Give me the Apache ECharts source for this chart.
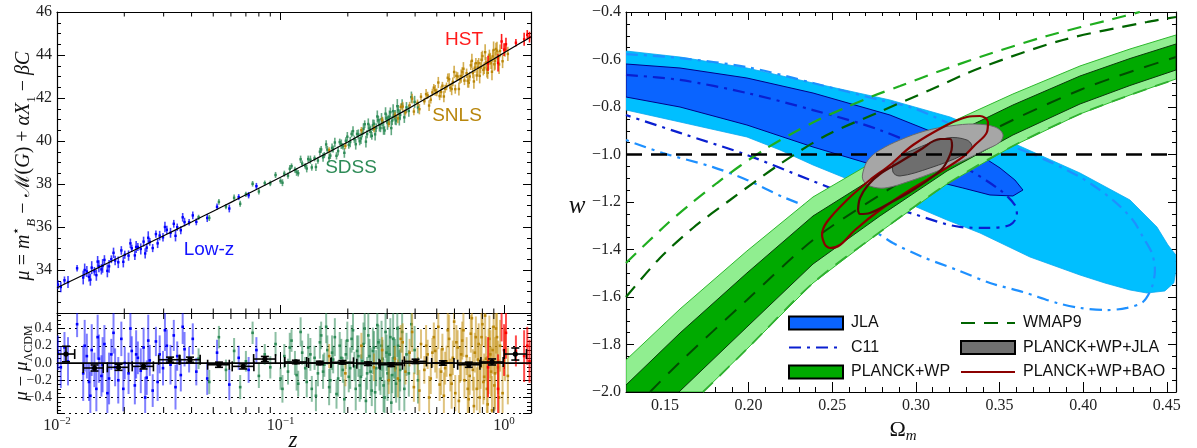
<!DOCTYPE html>
<html><head><meta charset="utf-8">
<script src="https://cdn.jsdelivr.net/npm/echarts@6/dist/echarts.min.js"></script>
<style>html,body{margin:0;padding:0;background:#fff}#c{width:1197px;height:448px}</style>
</head><body><div id="c"></div>
<script>
// ---------------- Hubble diagram data ----------------
const lowzZ = [0.0101,0.0104,0.0108,0.0112,0.0123,0.0131,0.0136,0.0139,0.0143,0.0147,0.0150,0.0154,0.0158,0.0163,0.0168,0.0175,0.0182,0.0188,0.0194,0.0201,0.0209,0.0216,0.0223,0.0230,0.0237,0.0244,0.0252,0.0260,0.0268,0.0277,0.0288,0.0298,0.0310,0.0322,0.0333,0.0345,0.0358,0.0372,0.0390,0.0405,0.0420,0.0470,0.0520,0.0590,0.0650,0.0720,0.0780,
  0.0133,0.0141,0.0152,0.0160,0.0171,0.0179,0.0198,0.0213,0.0226,0.0248,0.0256,0.0282,0.0304,0.0339,0.0365];
const lowzMu = [33.32,33.21,33.52,33.44,34.08,33.65,33.93,33.68,34.11,33.94,33.76,34.17,34.03,34.47,33.96,34.50,34.44,34.36,34.91,34.71,34.67,35.01,34.68,35.07,34.98,35.32,35.04,35.31,35.02,35.67,35.60,35.52,35.87,35.73,36.15,35.99,35.85,36.23,36.22,36.54,36.24,36.42,36.94,36.86,37.39,37.48,37.90,
  34.00,33.55,34.39,34.19,34.17,34.80,34.38,35.24,35.07,34.77,35.50,35.24,36.00,35.59,36.45];
const lowzRes = [0.12,-0.05,0.18,0.02,0.45,-0.12,0.08,-0.22,0.15,-0.08,-0.30,0.05,-0.15,0.22,-0.35,0.10,-0.05,-0.20,0.28,0.00,-0.12,0.14,-0.26,0.06,-0.09,0.18,-0.17,0.03,-0.32,0.25,0.10,-0.06,0.20,-0.02,0.32,0.08,-0.14,0.16,0.04,0.28,-0.10,-0.18,0.12,-0.25,0.06,-0.08,0.15,
  0.20,-0.38,0.30,-0.02,-0.18,0.35,-0.30,0.40,0.10,-0.40,0.26,-0.22,0.38,-0.28,0.42];
const lowzErr = [0.20,0.24,0.18,0.28,0.15,0.32,0.26,0.22,0.30,0.20,0.26,0.28,0.24,0.22,0.30,0.18,0.22,0.27,0.20,0.19,0.24,0.17,0.22,0.19,0.26,0.23,0.20,0.18,0.19,0.17,0.22,0.20,0.19,0.23,0.18,0.17,0.19,0.20,0.15,0.18,0.16,0.19,0.15,0.18,0.14,0.15,0.15,
  0.30,0.28,0.26,0.32,0.30,0.24,0.26,0.22,0.28,0.24,0.30,0.22,0.24,0.26,0.20];

const sdssZ = [0.043,0.048,0.053,0.057,0.062,0.066,0.070,0.075,0.080,0.085,0.090,0.095,0.100,0.104,0.108,0.112,0.116,0.120,0.125,0.129,0.133,0.138,0.142,0.147,0.152,0.157,0.162,0.167,0.172,0.178,0.184,0.190,0.196,0.202,0.208,0.214,0.220,0.226,0.232,0.238,0.244,0.250,0.256,0.262,0.268,0.274,0.280,0.286,0.292,0.298,0.304,0.310,0.316,0.322,0.329,0.336,0.343,0.350,0.358,0.366,0.375,0.385,0.398,0.412,
  0.102,0.110,0.118,0.123,0.131,0.136,0.144,0.150,0.155,0.160,0.165,0.170,0.175,0.181,0.187,0.193,0.199,0.205,0.211,0.217,0.223,0.229,0.235,0.241,0.247,0.253,0.259,0.265,0.271,0.277,0.283,0.289,0.295,0.301,0.307,0.313,0.319,0.326,0.333,0.340];
const sdssMu = [36.45,36.42,37.17,36.95,37.36,37.08,37.52,38.01,37.65,38.04,38.03,38.42,38.14,38.48,38.39,38.83,38.66,38.50,38.95,38.84,39.16,38.77,39.19,39.09,39.61,39.35,39.60,39.32,39.63,39.31,39.95,39.75,40.01,39.82,40.33,40.08,40.33,39.99,40.34,40.78,40.32,40.58,40.24,40.80,40.61,40.97,40.60,40.89,40.49,41.06,40.97,41.34,40.95,41.19,40.95,41.44,41.21,41.70,41.10,41.56,41.40,42.04,41.82,41.56,
  38.06,38.71,38.56,39.15,38.72,39.13,38.79,39.50,39.24,39.84,39.21,39.68,39.93,39.53,39.85,39.45,40.20,39.95,40.46,39.85,40.30,40.12,40.57,39.97,40.79,40.43,40.73,40.31,41.14,40.74,41.01,40.60,41.27,40.84,41.11,40.60,41.39,41.10,41.62,41.07];
const sdssRes = [0.05,-0.22,0.30,-0.08,0.14,-0.28,0.02,0.35,-0.15,0.10,-0.05,0.22,-0.18,0.08,-0.10,0.26,0.00,-0.24,0.12,-0.06,0.18,-0.30,0.06,-0.12,0.32,-0.02,0.15,-0.20,0.04,-0.36,0.20,-0.08,0.10,-0.16,0.28,-0.04,0.14,-0.26,0.02,0.40,-0.12,0.08,-0.32,0.18,-0.06,0.24,-0.18,0.05,-0.40,0.12,-0.02,0.30,-0.14,0.06,-0.24,0.20,-0.08,0.36,-0.30,0.10,-0.12,0.45,0.15,-0.20,
  -0.30,0.18,-0.14,0.36,-0.22,0.10,-0.38,0.24,-0.10,0.42,-0.28,0.12,0.30,-0.18,0.06,-0.42,0.26,-0.06,0.38,-0.30,0.08,-0.16,0.22,-0.44,0.32,-0.10,0.14,-0.34,0.44,-0.02,0.20,-0.26,0.36,-0.12,0.10,-0.46,0.28,-0.06,0.40,-0.20];
const sdssErr = [0.12,0.14,0.13,0.12,0.15,0.14,0.12,0.13,0.14,0.12,0.13,0.14,0.13,0.14,0.15,0.13,0.14,0.15,0.14,0.13,0.16,0.15,0.14,0.15,0.16,0.14,0.17,0.15,0.16,0.17,0.16,0.15,0.17,0.18,0.16,0.17,0.18,0.19,0.17,0.18,0.19,0.20,0.18,0.19,0.21,0.20,0.19,0.22,0.20,0.21,0.23,0.22,0.21,0.24,0.22,0.23,0.25,0.24,0.26,0.25,0.27,0.26,0.28,0.27,
  0.16,0.17,0.18,0.17,0.18,0.19,0.18,0.19,0.20,0.19,0.21,0.20,0.22,0.21,0.22,0.23,0.22,0.24,0.23,0.25,0.24,0.26,0.25,0.27,0.26,0.28,0.27,0.29,0.28,0.30,0.29,0.31,0.30,0.32,0.31,0.33,0.32,0.34,0.33,0.35];

const snlsZ = [0.165,0.195,0.230,0.262,0.285,0.305,0.325,0.345,0.362,0.378,0.395,0.410,0.425,0.440,0.455,0.470,0.485,0.500,0.515,0.530,0.545,0.560,0.575,0.590,0.605,0.620,0.635,0.650,0.665,0.680,0.695,0.710,0.725,0.740,0.755,0.770,0.785,0.800,0.815,0.830,0.845,0.860,0.875,0.890,0.905,0.920,0.940,0.960,0.985,1.010,1.040,0.478,0.553,0.612,0.702,0.748,0.808,0.868,
  0.335,0.352,0.388,0.418,0.448,0.462,0.492,0.508,0.523,0.538,0.568,0.583,0.598,0.628,0.643,0.658,0.688,0.718,0.733,0.763,0.778,0.793,0.823,0.838,0.853,0.883,0.898,0.912,0.930,0.950];
const snlsMu = [39.57,39.77,40.50,40.57,40.98,40.80,41.21,41.59,41.33,41.66,41.37,41.77,42.06,41.85,42.12,41.92,42.48,42.26,42.09,42.57,42.43,42.94,42.48,42.75,42.41,43.00,42.87,43.21,42.81,43.15,42.71,43.52,43.16,43.41,43.05,43.62,43.41,43.95,43.39,43.65,43.17,43.98,43.64,43.94,43.57,44.28,43.88,44.19,43.71,44.23,44.05,42.26,42.54,43.03,43.00,43.62,43.31,43.82,
  41.05,41.60,41.97,41.48,42.18,41.65,42.36,42.72,42.28,42.07,42.87,42.42,43.21,42.42,43.02,43.36,42.80,43.73,42.77,43.41,43.03,43.78,44.13,43.33,43.69,43.22,44.23,43.73,44.20,43.56];
const snlsRes = [0.08,-0.12,0.20,-0.05,0.15,-0.20,0.05,0.28,-0.10,0.12,-0.28,0.02,0.22,-0.08,0.10,-0.18,0.30,0.00,-0.25,0.16,-0.06,0.38,-0.14,0.06,-0.35,0.18,-0.02,0.26,-0.20,0.08,-0.42,0.34,-0.08,0.12,-0.30,0.22,-0.04,0.45,-0.16,0.05,-0.48,0.28,-0.10,0.15,-0.26,0.40,-0.05,0.20,-0.35,0.10,-0.15,0.12,0.02,0.24,-0.15,0.30,-0.22,0.10,
  -0.18,0.24,0.36,-0.32,0.20,-0.40,0.14,0.42,-0.10,-0.38,0.28,-0.24,0.48,-0.44,0.10,0.38,-0.30,0.52,-0.50,0.04,-0.40,0.30,0.55,-0.30,0.02,-0.55,0.42,-0.12,0.30,-0.40];
const snlsErr = [0.14,0.15,0.15,0.16,0.15,0.16,0.15,0.16,0.15,0.16,0.17,0.16,0.17,0.16,0.17,0.18,0.17,0.18,0.19,0.18,0.19,0.20,0.19,0.20,0.21,0.20,0.21,0.22,0.21,0.22,0.23,0.22,0.24,0.23,0.25,0.24,0.26,0.25,0.27,0.26,0.28,0.27,0.29,0.28,0.30,0.29,0.31,0.30,0.32,0.31,0.33,0.17,0.18,0.20,0.22,0.24,0.26,0.28,
  0.22,0.22,0.23,0.24,0.24,0.25,0.25,0.26,0.27,0.27,0.28,0.29,0.29,0.30,0.31,0.31,0.32,0.33,0.34,0.35,0.35,0.36,0.37,0.38,0.38,0.40,0.40,0.42,0.42,0.44];

const hstZ = [0.848,0.940,0.975,1.000,1.020,1.130,1.230,1.270,1.300];
const hstMu = [43.61,43.63,44.63,44.25,44.50,44.57,44.73,44.94,44.83];
const hstRes = [-0.05,-0.30,0.60,0.15,0.35,0.14,0.08,0.20,0.02];
const hstErr = [0.35,0.40,0.35,0.30,0.30,0.18,0.30,0.22,0.25];

const binZ = [0.01097,0.01472,0.01885,0.02438,0.03205,0.03936,0.05304,0.0681,0.0851,0.1171,0.1498,0.1891,0.2463,0.3130,0.4018,0.5324,0.6955,0.8840,1.1230];
const binRes = [0.104,-0.058,-0.050,-0.039,0.038,0.038,-0.020,-0.039,0.046,0.012,0.000,0.008,-0.008,-0.020,0.019,0.000,-0.020,0.012,0.104];
const binErr = [0.09,0.035,0.035,0.03,0.03,0.03,0.03,0.03,0.03,0.02,0.02,0.02,0.02,0.02,0.025,0.025,0.03,0.035,0.07];
const binZLo = [0.0100,0.0131,0.0168,0.0217,0.0285,0.0352,0.0472,0.0608,0.0758,0.1045,0.1335,0.1685,0.2195,0.2790,0.3580,0.4745,0.6200,0.7880,1.0010];
const binZHi = [0.0120,0.0161,0.0209,0.0270,0.0355,0.0437,0.0590,0.0760,0.0950,0.1310,0.1680,0.2120,0.2760,0.3510,0.4500,0.5970,0.7800,0.9910,1.2600];

const modelZ = [0.01,0.0125,0.015,0.02,0.025,0.03,0.04,0.05,0.06,0.07,0.08,0.1,0.12,0.14,0.16,0.2,0.25,0.3,0.35,0.4,0.5,0.6,0.7,0.8,0.9,1.0,1.1,1.2,1.32];
const modelMu = [33.175,33.664,34.064,34.697,35.190,35.594,36.235,36.736,37.147,37.498,37.804,38.315,38.740,39.102,39.420,39.956,40.502,40.956,41.344,41.685,42.261,42.739,43.147,43.503,43.818,44.100,44.356,44.590,44.847];

const logMinorTicks = [0.02,0.03,0.04,0.05,0.06,0.07,0.08,0.09,0.2,0.3,0.4,0.5,0.6,0.7,0.8,0.9];

// ---------------- Omega_m - w contours ----------------
const jla2 = [[0.1267,-0.5642],[0.1590,-0.5895],[0.1990,-0.6358],[0.2385,-0.6989],[0.2845,-0.7705],[0.3204,-0.8421],[0.3580,-0.9516],[0.3981,-1.0779],[0.4280,-1.1916],[0.4441,-1.3053],[0.4507,-1.3811],[0.4554,-1.4232],[0.4555,-1.4863],[0.4542,-1.5411],[0.4488,-1.5747],[0.4381,-1.5832],[0.4280,-1.5705],[0.4130,-1.5411],[0.3981,-1.5074],[0.3682,-1.4316],[0.3383,-1.3305],[0.3186,-1.2758],[0.2905,-1.1916],[0.2606,-1.1074],[0.2385,-1.0442],[0.2188,-0.9811],[0.1990,-0.9263],[0.1590,-0.8632],[0.1267,-0.8126]];
const jla1 = [[0.1267,-0.6189],[0.1590,-0.6358],[0.1990,-0.6779],[0.2385,-0.7411],[0.2845,-0.8337],[0.3144,-0.9179],[0.3383,-1.0021],[0.3503,-1.0568],[0.3592,-1.1074],[0.3640,-1.1495],[0.3580,-1.1747],[0.3443,-1.1705],[0.3281,-1.1411],[0.2845,-1.0653],[0.2385,-0.9684],[0.1990,-0.8758],[0.1590,-0.8000],[0.1267,-0.7579]];
const c11in = [[0.1267,-0.665],[0.159,-0.686],[0.199,-0.741],[0.2385,-0.813],[0.2785,-0.897],[0.3263,-1.044],[0.3502,-1.149],[0.3592,-1.213],[0.3604,-1.255],[0.3562,-1.297],[0.3425,-1.309],[0.3263,-1.305],[0.2965,-1.246],[0.2606,-1.171],[0.2367,-1.107],[0.199,-1.002],[0.159,-0.909],[0.1267,-0.834]];
const c11out = [[0.1267,-0.577],[0.159,-0.594],[0.199,-0.632],[0.2385,-0.699],[0.2785,-0.771],[0.2982,-0.804],[0.3263,-0.888],[0.368,-0.994],[0.3981,-1.095],[0.4178,-1.192],[0.4297,-1.276],[0.4357,-1.347],[0.4411,-1.415],[0.4429,-1.486],[0.4411,-1.558],[0.4357,-1.621],[0.4262,-1.646],[0.4142,-1.655],[0.3981,-1.646],[0.3843,-1.625],[0.364,-1.579],[0.3443,-1.541],[0.3246,-1.486],[0.3042,-1.432],[0.2863,-1.373],[0.2767,-1.331],[0.2486,-1.255],[0.2206,-1.179],[0.199,-1.107],[0.1787,-1.053],[0.1488,-0.994],[0.1267,-0.939]];
const planck2 = [[0.1267,-1.8653],[0.1590,-1.6505],[0.1990,-1.4063],[0.2385,-1.1789],[0.2785,-1.0147],[0.3186,-0.8716],[0.3580,-0.7453],[0.3981,-0.6274],[0.4280,-0.5558],[0.4555,-0.4968],[0.4555,-0.6821],[0.4280,-0.7495],[0.3981,-0.8295],[0.3580,-0.9642],[0.3186,-1.1242],[0.2785,-1.3263],[0.2385,-1.5411],[0.1990,-1.8189],[0.1727,-2.0],[0.1267,-2.0]];
const planck1 = [[0.1267,-1.9705],[0.1590,-1.7516],[0.1990,-1.4989],[0.2385,-1.2589],[0.2785,-1.0821],[0.3186,-0.9263],[0.3580,-0.7916],[0.3981,-0.6695],[0.4280,-0.5958],[0.4555,-0.5347],[0.4555,-0.6442],[0.4280,-0.7095],[0.3981,-0.7874],[0.3580,-0.9179],[0.3186,-1.0695],[0.2785,-1.2589],[0.2385,-1.4611],[0.1990,-1.7263],[0.1590,-1.9958],[0.1584,-2.0],[0.1267,-2.0]];
const planckMid = [[0.1410,-2.0],[0.1590,-1.8737],[0.1990,-1.6126],[0.2385,-1.36],[0.2785,-1.1705],[0.3186,-0.9979],[0.3580,-0.8547],[0.3981,-0.7284],[0.4280,-0.6526],[0.4555,-0.5895]];
const wmap2Upper = [[0.1267,-1.4568],[0.1512,-1.2926],[0.1667,-1.2],[0.1811,-1.12],[0.1948,-1.0484],[0.2110,-0.9726],[0.2265,-0.9095],[0.2427,-0.8505],[0.2588,-0.8],[0.2743,-0.7537],[0.2905,-0.7116],[0.3144,-0.6484],[0.3383,-0.5895],[0.3783,-0.5011],[0.4178,-0.4295],[0.4339,-0.4]];
const wmap2Lower = [[0.1727,-2.0],[0.1990,-1.8189],[0.2385,-1.5411],[0.2785,-1.3263],[0.3186,-1.1242],[0.3580,-0.9642],[0.3981,-0.8295],[0.4280,-0.7495],[0.4555,-0.6821]];
const wmap1Upper = [[0.1267,-1.6],[0.1470,-1.4358],[0.1667,-1.3095],[0.1889,-1.1916],[0.2188,-1.04],[0.2468,-0.9179],[0.2767,-0.8253],[0.3084,-0.7284],[0.3383,-0.6358],[0.3879,-0.5179],[0.4381,-0.4421],[0.4555,-0.4211]];
const grayOut = [[0.2684,-1.0737],[0.2714,-1.0232],[0.2785,-0.9811],[0.2905,-0.9389],[0.3054,-0.9011],[0.3204,-0.88],[0.3353,-0.8716],[0.3473,-0.8842],[0.3520,-0.9137],[0.3503,-0.9474],[0.3413,-0.9811],[0.3264,-1.0316],[0.3114,-1.0737],[0.2965,-1.1116],[0.2815,-1.1411],[0.2725,-1.1326],[0.2684,-1.1074]];
const grayIn = [[0.2863,-1.0737],[0.2875,-1.0232],[0.2983,-0.9811],[0.3186,-0.9305],[0.3305,-0.9389],[0.3335,-0.9684],[0.3281,-1.0021],[0.3084,-1.0568],[0.2905,-1.0905]];
const redOut = [[0.2457,-1.3811],[0.2439,-1.3389],[0.2468,-1.2842],[0.2588,-1.1916],[0.2725,-1.1074],[0.2845,-1.0442],[0.2983,-0.96],[0.3186,-0.8758],[0.3305,-0.8421],[0.3383,-0.8379],[0.3431,-0.8632],[0.3425,-0.9053],[0.3353,-0.96],[0.3281,-1.0105],[0.3144,-1.0737],[0.2983,-1.1411],[0.2785,-1.2337],[0.2636,-1.3179],[0.2546,-1.3811],[0.2486,-1.3937],[0.2457,-1.3811]];
const redIn = [[0.2654,-1.2337],[0.2666,-1.1832],[0.2714,-1.1284],[0.2785,-1.0821],[0.2905,-1.0316],[0.3024,-0.9811],[0.3144,-0.9347],[0.3204,-0.9347],[0.3216,-0.9642],[0.3174,-1.0442],[0.3114,-1.0863],[0.2983,-1.1495],[0.2845,-1.2042],[0.2725,-1.2463],[0.2666,-1.2505],[0.2654,-1.2337]];
const wMinusOne = [[0.1267,-1.0],[0.4555,-1.0]];

// ---------------- helpers ----------------
const serif = 'Liberation Serif';
const sans = 'Liberation Sans';
const axLine = {show:true, lineStyle:{color:'#000', width:1.2}};

function errSeries(z, v, e, xi, yi, barColor, dotColor, lw, dot) {
  return {type:'custom', xAxisIndex:xi, yAxisIndex:yi, clip:true, silent:true, z:3,
    data: z.map((zz,i)=>[zz, v[i], e[i]]),
    renderItem(p, api) {
      const x=api.value(0), y=api.value(1), er=api.value(2);
      const a=api.coord([x,y-er]), b=api.coord([x,y+er]), c=api.coord([x,y]);
      return {type:'group', children:[
        {type:'line', shape:{x1:a[0],y1:a[1],x2:b[0],y2:b[1]}, style:{stroke:barColor, lineWidth:lw}},
        {type:'rect', shape:{x:c[0]-dot/2,y:c[1]-dot/2,width:dot,height:dot}, style:{fill:dotColor}}
      ]};
    }};
}
function minorLogTicks(xi, yi, yMin, yMax, len) {
  return {type:'custom', xAxisIndex:xi, yAxisIndex:yi, silent:true, z:8,
    data: logMinorTicks.map(v=>[v, yMin]),
    renderItem(p, api) {
      const b=api.coord([api.value(0), yMin]), t=api.coord([api.value(0), yMax]);
      const s={stroke:'#000', lineWidth:1};
      return {type:'group', children:[
        {type:'line', shape:{x1:b[0],y1:b[1],x2:b[0],y2:b[1]-len}, style:s},
        {type:'line', shape:{x1:t[0],y1:t[1],x2:t[0],y2:t[1]+len}, style:s}
      ]};
    }};
}
function poly(name, pts, fill, stroke, lw, smooth, z) {
  return {type:'custom', name, xAxisIndex:4, yAxisIndex:4, z, silent:true, clip:true,
    data: pts, itemStyle:{color: fill},
    renderItem(p, api) {
      if (p.dataIndex !== 0) return null;
      const points = pts.map(q => api.coord(q));
      return {type:'polygon', shape:{points, smooth}, style:{fill, stroke, lineWidth:lw}};
    }};
}
function ln(name, pts, color, width, dash, smooth, z) {
  return {type:'line', name, xAxisIndex:4, yAxisIndex:4, data:pts, symbol:'none', showSymbol:false,
    smooth, z, silent:true, lineStyle:{color, width, type:dash}, itemStyle:{color}};
}
function logX(gi, pos, labels, tickLen) {
  return {type:'log', logBase:10, gridIndex:gi, position:pos, min:0.01, max:1.32,
    axisLine:axLine, splitLine:{show:false},
    axisTick:{show:true, inside:true, length:tickLen, lineStyle:{color:'#000', width:1}},
    axisLabel: labels ? {show:true, margin:3,
      formatter: v => { const e=Math.log10(v), r=Math.round(e); if (Math.abs(e-r)>1e-6) return ''; return '{b|10}{s|'+(r<0?'\u2212':'')+Math.abs(r)+'}'; },
      rich:{b:{fontFamily:serif, fontSize:16, lineHeight:20, color:'#222'}, s:{fontFamily:serif, fontSize:11, lineHeight:10, verticalAlign:'top', color:'#222'}}
    } : {show:false}};
}
function valY(gi, pos, opts, labels, fmt, fs) {
  return Object.assign({type:'value', gridIndex:gi, position:pos, axisLine:axLine,
    axisTick:{show:true, inside:true, length:8, lineStyle:{color:'#000', width:1}},
    minorTick:{show:true, splitNumber:4, length:4, lineStyle:{color:'#000', width:1}},
    splitLine:{show:false},
    axisLabel: labels ? {show:true, formatter:fmt, fontFamily:serif, fontSize:fs, color:'#222', margin:5} : {show:false}
  }, opts);
}
const minus = v => (v<0?'\u2212':'') + Math.abs(v).toFixed(1);

const xAxis = [
  logX(0,'bottom',false,8), logX(0,'top',false,8),
  logX(1,'bottom',true,11), logX(1,'top',false,6),
  {type:'value', gridIndex:2, position:'bottom', min:0.1267, max:0.4555, splitNumber:7, axisLine:axLine, splitLine:{show:false},
    axisTick:{show:true, inside:true, length:10, lineStyle:{color:'#000', width:1}},
    axisLabel:{show:true, margin:6, fontFamily:serif, fontSize:16, color:'#222',
      formatter: v => { const k=Math.round(v/0.05); return Math.abs(v-k*0.05)>1e-6 ? '' : v.toFixed(2); }}},
  {type:'value', gridIndex:2, position:'bottom', min:0.1267, max:0.4555, splitNumber:33, axisLine:{show:false}, splitLine:{show:false},
    axisTick:{show:true, inside:true, length:5, lineStyle:{color:'#000', width:1}}, axisLabel:{show:false}},
  {type:'value', gridIndex:2, position:'top', min:0.1267, max:0.4555, splitNumber:7, axisLine:axLine, splitLine:{show:false},
    axisTick:{show:true, inside:true, length:8, lineStyle:{color:'#000', width:1}}, axisLabel:{show:false}},
  {type:'value', gridIndex:2, position:'top', min:0.1267, max:0.4555, splitNumber:33, axisLine:{show:false}, splitLine:{show:false},
    axisTick:{show:true, inside:true, length:4, lineStyle:{color:'#000', width:1}}, axisLabel:{show:false}}
];
const yAxis = [
  valY(0,'left',{min:32,max:46,interval:2},true, v => v<=32 ? '' : String(v), 16),
  valY(0,'right',{min:32,max:46,interval:2},false),
  valY(1,'left',{min:-0.58,max:0.58,splitNumber:6, splitLine:{show:true, lineStyle:{type:[2,4], color:'#000', width:1.1}}},true,
     v => Math.abs(v)>0.5 ? '' : minus(v), 14),
  valY(1,'right',{min:-0.58,max:0.58,splitNumber:6},false),
  valY(2,'left',{min:-2,max:-0.4,interval:0.2},true, v => minus(v), 16),
  valY(2,'right',{min:-2,max:-0.4,interval:0.2},false)
];

const series = [
  // Hubble diagram
  errSeries(lowzZ, lowzMu, lowzErr, 0,0,'rgba(0,0,255,0.75)','#0000ff',1.6,2.4),
  errSeries(sdssZ, sdssMu, sdssErr, 0,0,'rgba(46,139,87,0.75)','#2e8b57',1.6,2.4),
  errSeries(snlsZ, snlsMu, snlsErr, 0,0,'rgba(196,145,20,0.75)','#b8860b',1.6,2.4),
  errSeries(hstZ, hstMu, hstErr, 0,0,'rgba(255,0,0,0.9)','#ff0000',1.6,2.4),
  {type:'line', xAxisIndex:0, yAxisIndex:0, data:modelZ.map((z,i)=>[z,modelMu[i]]), symbol:'none', smooth:0.3, silent:true, z:6,
    lineStyle:{color:'#000', width:1.2}},
  minorLogTicks(0,0,32,46,4.5),
  // residuals
  errSeries(lowzZ, lowzRes, lowzErr, 2,2,'rgba(0,0,255,0.5)','#0000ff',2,2.6),
  errSeries(sdssZ, sdssRes, sdssErr, 2,2,'rgba(46,139,87,0.55)','#2e8b57',2,2.6),
  errSeries(snlsZ, snlsRes, snlsErr, 2,2,'rgba(196,145,20,0.55)','#b8860b',2,2.6),
  errSeries(hstZ, hstRes, hstErr, 2,2,'rgba(255,0,0,0.7)','#ff0000',2,2.6),
  {type:'line', xAxisIndex:2, yAxisIndex:2, data:[[0.01,0],[1.32,0]], symbol:'none', silent:true, z:6, lineStyle:{color:'#000', width:1.5}},
  {type:'custom', xAxisIndex:2, yAxisIndex:2, silent:true, z:7, clip:true,
    data: binZ.map((z,i)=>[z, binRes[i], binErr[i], binZLo[i], binZHi[i]]),
    renderItem(p, api) {
      const z=api.value(0), r=api.value(1), e=api.value(2), lo=api.value(3), hi=api.value(4);
      const c=api.coord([z,r]), a=api.coord([lo,r]), b=api.coord([hi,r]), t=api.coord([z,r+e]), d=api.coord([z,r-e]);
      const s={stroke:'#000', lineWidth:1.6};
      return {type:'group', children:[
        {type:'line', shape:{x1:a[0],y1:a[1],x2:b[0],y2:b[1]}, style:s},
        {type:'line', shape:{x1:a[0],y1:a[1]-5,x2:a[0],y2:a[1]+5}, style:s},
        {type:'line', shape:{x1:b[0],y1:b[1]-5,x2:b[0],y2:b[1]+5}, style:s},
        {type:'line', shape:{x1:t[0],y1:t[1],x2:d[0],y2:d[1]}, style:s},
        {type:'line', shape:{x1:c[0]-4,y1:t[1],x2:c[0]+4,y2:t[1]}, style:s},
        {type:'line', shape:{x1:c[0]-4,y1:d[1],x2:c[0]+4,y2:d[1]}, style:s},
        {type:'circle', shape:{cx:c[0],cy:c[1],r:2.6}, style:{fill:'#000'}}
      ]};
    }},
  minorLogTicks(2,2,-0.58,0.58,6),
  // contours
  poly('JLA 2s', jla2, '#00bfff', '#0aa8f0', 0.8, 0, 1),
  poly('JLA', jla1, '#0a64ff', '#00008b', 1, 0, 2),
  ln('C11 2s', c11out, '#1e90ff', 2.2, [12,6,3,6], 0.3, 3),
  ln('C11', c11in, '#0a1fd0', 2.2, [12,6,3,6], 0.3, 3),
  poly('PLANCK+WP 2s', planck2, '#90ee90', '#2db82d', 1, 0, 4),
  poly('PLANCK+WP', planck1, '#00aa00', '#0a3a0a', 1, 0, 5),
  ln('Planck mid', planckMid, '#004d00', 2, [15,11], 0.3, 6),
  ln('WMAP9 2s', wmap2Upper, '#1fae1f', 2.2, [14,9], 0.3, 6),
  ln('WMAP9 2s low', wmap2Lower, '#2fb02f', 1.8, [14,9], 0.3, 6),
  ln('WMAP9', wmap1Upper, '#006400', 2.2, [14,9], 0.3, 6),
  poly('PLANCK+WP+JLA 2s', grayOut, '#a6a6a6', '#6a6a6a', 1, 0.35, 7),
  poly('PLANCK+WP+JLA', grayIn, '#6e6e6e', '#404040', 1, 0.35, 8),
  ln('PLANCK+WP+BAO', redOut, '#8b0000', 2.2, 'solid', 0.35, 9),
  ln('BAO 1s', redIn, '#5a0505', 2.2, 'solid', 0.35, 9),
  ln('LCDM', wMinusOne, '#000', 2.5, [16,9], false, 10)
];

const noSym = {opacity:0};
const legendText = {fontFamily:sans, fontSize:16, color:'#111', padding:[0,0,0,3]};
const option = {
  animation:false,
  backgroundColor:'#fff',
  grid:[
    {left:57, top:12, width:474, height:301, outerBoundsMode:'none', containLabel:false},
    {left:57, top:313, width:474, height:100, outerBoundsMode:'none', containLabel:false},
    {left:626, top:12, width:550, height:380, outerBoundsMode:'none', containLabel:false}
  ],
  xAxis, yAxis,
  legend:[
    {left:783, top:310, orient:'vertical', itemWidth:54, itemHeight:13, itemGap:8.5, selectedMode:false, textStyle:legendText,
      data:[{name:'JLA', icon:'rect', itemStyle:{color:'#0a64ff', borderColor:'#000', borderWidth:2}},
            {name:'C11', itemStyle:noSym},
            {name:'PLANCK+WP', icon:'rect', itemStyle:{color:'#00aa00', borderColor:'#000', borderWidth:2}}]},
    {left:955, top:310, orient:'vertical', itemWidth:54, itemHeight:13, itemGap:8.5, selectedMode:false, textStyle:legendText,
      data:[{name:'WMAP9', itemStyle:noSym},
            {name:'PLANCK+WP+JLA', icon:'rect', itemStyle:{color:'#707070', borderColor:'#000', borderWidth:2}},
            {name:'PLANCK+WP+BAO', itemStyle:noSym}]}
  ],
  graphic:[
    {type:'text', x:24, y:166, rotation:Math.PI/2, z:100, style:{
      text:'{i|\u03bc}{n| = }{i|m}{sup|\u22c6}{sub|B}{n| \u2212 \u2133(}{i|G}{n|) + }{i|\u03b1X}{subn|1}{n| \u2212 }{i|\u03b2C}',
      align:'center', verticalAlign:'middle', fill:'#111',
      rich:{i:{fontFamily:serif, fontStyle:'italic', fontSize:20, lineHeight:28, fill:'#111'},
            n:{fontFamily:serif, fontSize:20, lineHeight:28, fill:'#111'},
            sup:{fontFamily:serif, fontSize:13, lineHeight:13, verticalAlign:'top', fill:'#111'},
            sub:{fontFamily:serif, fontStyle:'italic', fontSize:13, lineHeight:13, verticalAlign:'bottom', fill:'#111'},
            subn:{fontFamily:serif, fontSize:13, lineHeight:13, verticalAlign:'bottom', fill:'#111'}}}},
    {type:'text', x:22, y:363, rotation:Math.PI/2, z:100, style:{
      text:'{i|\u03bc}{n| \u2212 }{i|\u03bc}{sub|\u039bCDM}',
      align:'center', verticalAlign:'middle', fill:'#111',
      rich:{i:{fontFamily:serif, fontStyle:'italic', fontSize:19, lineHeight:26, fill:'#111'},
            n:{fontFamily:serif, fontSize:19, lineHeight:26, fill:'#111'},
            sub:{fontFamily:serif, fontSize:12, lineHeight:12, verticalAlign:'bottom', fill:'#111'}}}},
    {type:'text', x:293, y:441, z:100, style:{text:'z', fontFamily:serif, fontStyle:'italic', fontSize:23, fill:'#111', align:'center', verticalAlign:'middle'}},
    {type:'text', x:577, y:206, z:100, style:{text:'w', fontFamily:serif, fontStyle:'italic', fontSize:25, fill:'#111', align:'center', verticalAlign:'middle'}},
    {type:'text', x:903, y:430, z:100, style:{text:'{n|\u03a9}{sub|m}', align:'center', verticalAlign:'middle', fill:'#111',
      rich:{n:{fontFamily:serif, fontSize:22, lineHeight:28, fill:'#111'}, sub:{fontFamily:serif, fontStyle:'italic', fontSize:15, lineHeight:14, verticalAlign:'bottom', fill:'#111'}}}},
    {type:'text', x:209, y:250, z:100, style:{text:'Low-z', fontFamily:sans, fontSize:19, fill:'#1414ff', align:'center', verticalAlign:'middle'}},
    {type:'text', x:351, y:168, z:100, style:{text:'SDSS', fontFamily:sans, fontSize:19, fill:'#2e8b57', align:'center', verticalAlign:'middle'}},
    {type:'text', x:457, y:116, z:100, style:{text:'SNLS', fontFamily:sans, fontSize:19, fill:'#b8860b', align:'center', verticalAlign:'middle'}},
    {type:'text', x:464, y:40, z:100, style:{text:'HST', fontFamily:sans, fontSize:19, fill:'#ff1a1a', align:'center', verticalAlign:'middle'}}
  ],
  series
};
const chart = echarts.init(document.getElementById('c'), null, {renderer:'canvas'});
chart.setOption(option);
</script></body></html>
